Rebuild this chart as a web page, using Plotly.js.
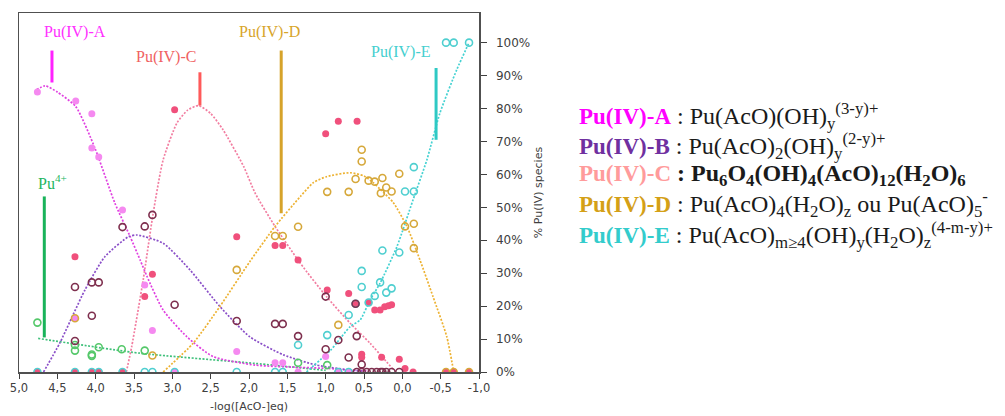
<!DOCTYPE html>
<html>
<head>
<meta charset="utf-8">
<script src="https://cdn.plot.ly/plotly-3.0.1.min.js"></script>
<style>html,body{margin:0;padding:0;background:#fff}#chart{width:1005px;height:416px}</style>
</head>
<body>
<div id="chart"></div>
<script>
// ---------- data (x = -log([AcO-]eq), y = % Pu(IV) species) ----------
// Measured points
const ptsA_x = [4.76, 4.26, 4.05, 4.05, 3.96, 3.65, 3.36, 3.26, 2.16, 1.66, 1.56, 1.36, 2.97, 1.00, 0.70, 0.835, 4.27];
const ptsA_y = [85.0, 82.3, 78.4, 68.0, 65.3, 49.2, 26.4, 12.6, 6.2, 2.8, 2.8, 0, 0, 4.7, 0, 0, 16.3];

const ptsB_x = [3.65, 4.27, 4.05, 3.96, 4.05, 4.27, 3.26, 3.36, 2.97, 2.16, 1.66, 1.56, 1.36, 1.00, 1.00, 0.835, 0.70, 0.595, 0.53, 0.61,
                0.595, 0.53, 0.465, 0.40, 0.335, 0.28, 0.26, 0.21, 0.14, 0.04];
const ptsB_y = [44.0, 25.8, 27.2, 27.2, 17.1, 9.4, 47.7, 44.2, 20.4, 15.5, 14.6, 14.6, 10.9, 6.9, 22.9, 9.7, 4.4, 10.9, 2.3, 20.7,
                0, 0, 0, 0, 0, 0, 0, 0, 0, 0];

const ptsC_x = [4.27, 2.97, 3.26, 3.36, 2.16, 1.00, 0.835, 0.59, 1.66, 1.56, 1.36, 0.98, 0.70, 0.53, 0.53, 0.44, 0.61, 0.36, 0.29, 0.23, 0.18, 0.14, 0.27, 0.04, -0.035, -0.14,
                4.76, 4.27, 4.05, 3.96, 3.65, -0.57, -0.67, -0.87];
const ptsC_y = [35.0, 79.6, 29.7, 22.9, 41.1, 72.3, 76.1, 76.1, 38.4, 38.4, 34.0, 24.9, 23.8, 5.4, 4.5, 21.0, 20.7, 18.8, 18.8, 19.8, 20.1, 20.4, 4.5, 3.9, 1.1, 0,
                0, 0, 0, 0, 0, 0, 0, 0];

const ptsD_x = [4.27, 3.26, 2.16, 1.66, 1.56, 1.36, 0.98, 0.70, 0.53, 0.53, 0.61, 0.44, 0.36, 0.26, 0.21, 0.28, 0.14, 0.04, -0.035, -0.15, -0.15, 0.835,
                -0.57, -0.67, -0.87];
const ptsD_y = [16.3, 5.0, 31.0, 41.3, 41.3, 44.1, 54.7, 54.7, 67.5, 63.9, 58.6, 58.1, 57.8, 58.9, 56.0, 54.3, 54.8, 60.2, 44.2, 45.0, 37.6, 14.3,
                0, 0, 0];

const ptsE_x = [1.36, 0.98, 0.70, 0.53, 0.53, 0.44, 0.36, 0.29, 0.21, 0.14, 0.26, 0.04, -0.035, -0.15, -0.15, -0.57, -0.67, -0.87, 0.61,
                4.76, 4.27, 4.05, 3.96, 3.65, 3.36, 3.26, 2.97, 2.16, 1.66, 1.56, 0.835, 0.70];
const ptsE_y = [8.2, 11.2, 17.3, 30.7, 25.8, 21.1, 23.1, 27.2, 24.1, 25.4, 36.9, 36.3, 54.8, 54.8, 62.2, 100, 100, 100, 20.7,
                0, 0, 0, 0, 0, 0, 0, 0, 0, 0, 0, 0, 0];

const ptsPu4_x = [4.76, 4.27, 4.27, 4.05, 4.05, 3.96, 3.66, 3.36, 1.36, 0.98];
const ptsPu4_y = [15.0, 8.2, 6.5, 4.9, 5.3, 7.5, 6.9, 6.5, 2.8, 2.1];

// Fitted (dotted) curves
const fitA_x = [4.77, 4.66, 4.50, 4.26, 4.01, 3.75, 3.55, 3.42, 3.33, 3.12, 2.81, 2.47, 1.92, 1.33, 0.99, 0.70, 0.45];
const fitA_y = [85.7, 86.9, 85.0, 80.6, 68.0, 51.3, 41.1, 34.0, 29.0, 18.8, 10.7, 4.7, 2.1, 1.4, 1.1, 0.6, 0.3];

const fitB_x = [4.68, 4.47, 4.14, 3.88, 3.57, 3.46, 3.12, 2.77, 2.38, 1.99, 1.55, 1.12, 0.68, 0.50];
const fitB_y = [0, 8.7, 24.9, 35.0, 41.1, 41.6, 39.1, 31.0, 19.9, 10.7, 5.2, 2.1, 0.6, 0.2];

const fitC_x = [3.60, 3.53, 3.38, 3.25, 3.12, 2.94, 2.80, 2.66, 2.50, 2.34, 2.07, 1.92, 1.66, 1.33, 0.99, 0.68, 0.42, 0.12];
const fitC_y = [0, 7.7, 28.0, 48.2, 64.4, 75.6, 79.5, 80.9, 78.5, 73.6, 62.4, 54.3, 44.2, 33.0, 22.9, 14.8, 8.7, 0.8];

const fitD_x = [3.12, 2.73, 2.38, 1.99, 1.66, 1.33, 1.16, 0.99, 0.68, 0.50, 0.38, 0.29, 0.12, -0.06, -0.23, -0.40, -0.58, -0.67];
const fitD_y = [0, 8.7, 19.9, 33.5, 44.2, 53.3, 57.5, 59.3, 60.5, 59.5, 57.5, 55.5, 51.5, 44.2, 34.0, 22.9, 10.7, 0];

const fitE_x = [1.25, 0.94, 0.86, 0.68, 0.55, 0.42, 0.29, 0.07, -0.14, -0.32, -0.49, -0.71, -0.87];
const fitE_y = [0, 6.5, 8.7, 13.8, 15.8, 21.9, 27.0, 38.1, 52.3, 64.4, 78.6, 91.8, 100];

const fitPu4_x = [4.75, 3.42, 1.92, 1.00];
const fitPu4_y = [10.2, 5.7, 2.6, 0.5];

// Species peak markers (x, y bottom, y top) and their labels
const markNames = ["Pu(IV)-A", "Pu(IV)-C", "Pu(IV)-D", "Pu(IV)-E", "Pu<sup>4+</sup>"];
const markX    = [4.57, 2.64, 1.58, -0.44, 4.67];
const markYlow = [87.9, 80.9, 48.2, 70.5, 10.5];
const markYhigh= [97.6, 91.0, 97.6, 92.3, 53.3];
const labelX   = [4.27, 3.08, 1.73, 0.02, 4.56];
const labelY   = [103.3, 95.7, 103.3, 97.3, 57.8];

// Axis ticks
const xTickVals = [5, 4.5, 4, 3.5, 3, 2.5, 2, 1.5, 1, 0.5, 0, -0.5, -1];
const xTickText = ["5,0","4,5","4,0","3,5","3,0","2,5","2,0","1,5","1,0","0,5","0,0","-0,5","-1,0"];
const yTickVals = [0,10,20,30,40,50,60,70,80,90,100];
const yTickText = ["0%","10%","20%","30%","40%","50%","60%","70%","80%","90%","100%"];

// Legend entries
const legNames = ["Pu(IV)-A", "Pu(IV)-B", "Pu(IV)-C", "Pu(IV)-D", "Pu(IV)-E"];
const legFormulas = [
  " : Pu(AcO)(OH)<sub>y</sub><sup>(3-y)+</sup>",
  " : Pu(AcO)<sub>2</sub>(OH)<sub>y</sub><sup>(2-y)+</sup>",
  " <b>: Pu<sub>6</sub>O<sub>4</sub>(OH)<sub>4</sub>(AcO)<sub>12</sub>(H<sub>2</sub>O)<sub>6</sub></b>",
  " : Pu(AcO)<sub>4</sub>(H<sub>2</sub>O)<sub>z</sub> ou Pu(AcO)<sub>5</sub><sup>-</sup>",
  " : Pu(AcO)<sub>m≥4</sub>(OH)<sub>y</sub>(H<sub>2</sub>O)<sub>z</sub><sup>(4-m-y)+</sup>"
];

// ---------- styles ----------
const fitColors = {A:'#E040E0', B:'#8A4FC8', C:'#F27DA0', D:'#EDB232', E:'#45D2D2', P:'#3EC07A'};
const markColors = ['#FF22FF', '#FF5A5A', '#D6A32A', '#2EC9C4', '#19B35A'];
const labelColors = ['#FF30FF', '#F06262', '#D8A52A', '#45CFCF', '#22B560'];
const legColors = ['#FF00FF', '#7030A0', '#FF9B9B', '#D4A017', '#33CCCC'];

const traces = [];
function fit(x, y, c) {
  traces.push({x, y, type:'scatter', mode:'lines', line:{color:c, width:1.7, dash:'2px,1.6px', shape:'spline', smoothing:0.6}, hoverinfo:'skip'});
}
fit(fitPu4_x, fitPu4_y, fitColors.P);
fit(fitA_x, fitA_y, fitColors.A);
fit(fitB_x, fitB_y, fitColors.B);
fit(fitC_x, fitC_y, fitColors.C);
fit(fitD_x, fitD_y, fitColors.D);
fit(fitE_x, fitE_y, fitColors.E);

function filled(x, y, c) {
  traces.push({x, y, type:'scatter', mode:'markers', marker:{color:c, size:7, line:{width:0}}, hoverinfo:'skip'});
}
function open(x, y, c) {
  traces.push({x, y, type:'scatter', mode:'markers', marker:{color:c, size:7, symbol:'circle-open', line:{width:1.6}}, hoverinfo:'skip'});
}
filled(ptsA_x, ptsA_y, '#F589F0');
filled(ptsC_x, ptsC_y, '#F0507C');
open(ptsPu4_x, ptsPu4_y, '#55C86A');
open(ptsD_x, ptsD_y, '#D6A83A');
open(ptsE_x, ptsE_y, '#4FCFD0');
open(ptsB_x, ptsB_y, '#7E2F4E');

for (let i = 0; i < markX.length; i++) {
  traces.push({x:[markX[i], markX[i]], y:[markYlow[i], markYhigh[i]], type:'scatter', mode:'lines',
    line:{color:markColors[i], width:3}, hoverinfo:'skip'});
}

const annotations = [];
for (let i = 0; i < markNames.length; i++) {
  annotations.push({x:labelX[i], y:labelY[i], xref:'x', yref:'y', text:markNames[i], showarrow:false,
    font:{family:'Liberation Serif', size:16, color:labelColors[i]}, xanchor:'center', yanchor:'middle'});
}
const legCenters = [116, 145.5, 175, 204.5, 234.5];
for (let i = 0; i < legNames.length; i++) {
  annotations.push({x:(577-19)/460, y:(372-legCenters[i])/359, xref:'paper', yref:'paper',
    text:'<b><span style="color:'+legColors[i]+';font-size:23px">'+legNames[i]+'</span></b>'+legFormulas[i],
    showarrow:false, xanchor:'left', yanchor:'middle', align:'left',
    font:{family:'Liberation Serif', size:24, color:'#1a1a1a'}});
}

const layout = {
  width:1005, height:416,
  margin:{l:19, r:526, t:13, b:44},
  paper_bgcolor:'#ffffff', plot_bgcolor:'#ffffff',
  showlegend:false,
  font:{family:'DejaVu Sans', size:11, color:'#404040'},
  xaxis:{range:[5, -1], tickvals:xTickVals, ticktext:xTickText, showgrid:false, zeroline:false,
    showline:true, linecolor:'#505050', linewidth:1.5, mirror:true, ticks:'outside', ticklen:5, tickcolor:'#404040',
    tickfont:{family:'DejaVu Sans', size:11.5, color:'#404040'},
    title:{text:'-log([AcO-]eq)', font:{family:'DejaVu Sans', size:11, color:'#404040'}, standoff:8}},
  yaxis:{range:[0, 109], side:'right', tickvals:yTickVals, ticktext:yTickText, showgrid:false, zeroline:false,
    showline:true, linecolor:'#505050', linewidth:1.5, mirror:true, ticks:'outside', ticklen:6, tickcolor:'#404040',
    ticklabelstandoff:7,
    tickfont:{family:'DejaVu Sans', size:12, color:'#404040'},
    title:{text:'% Pu(IV) species', font:{family:'DejaVu Sans', size:11, color:'#404040'}, standoff:5}},
  annotations
};
Plotly.newPlot('chart', traces, layout, {staticPlot:true, displayModeBar:false});
</script>
</body>
</html>
